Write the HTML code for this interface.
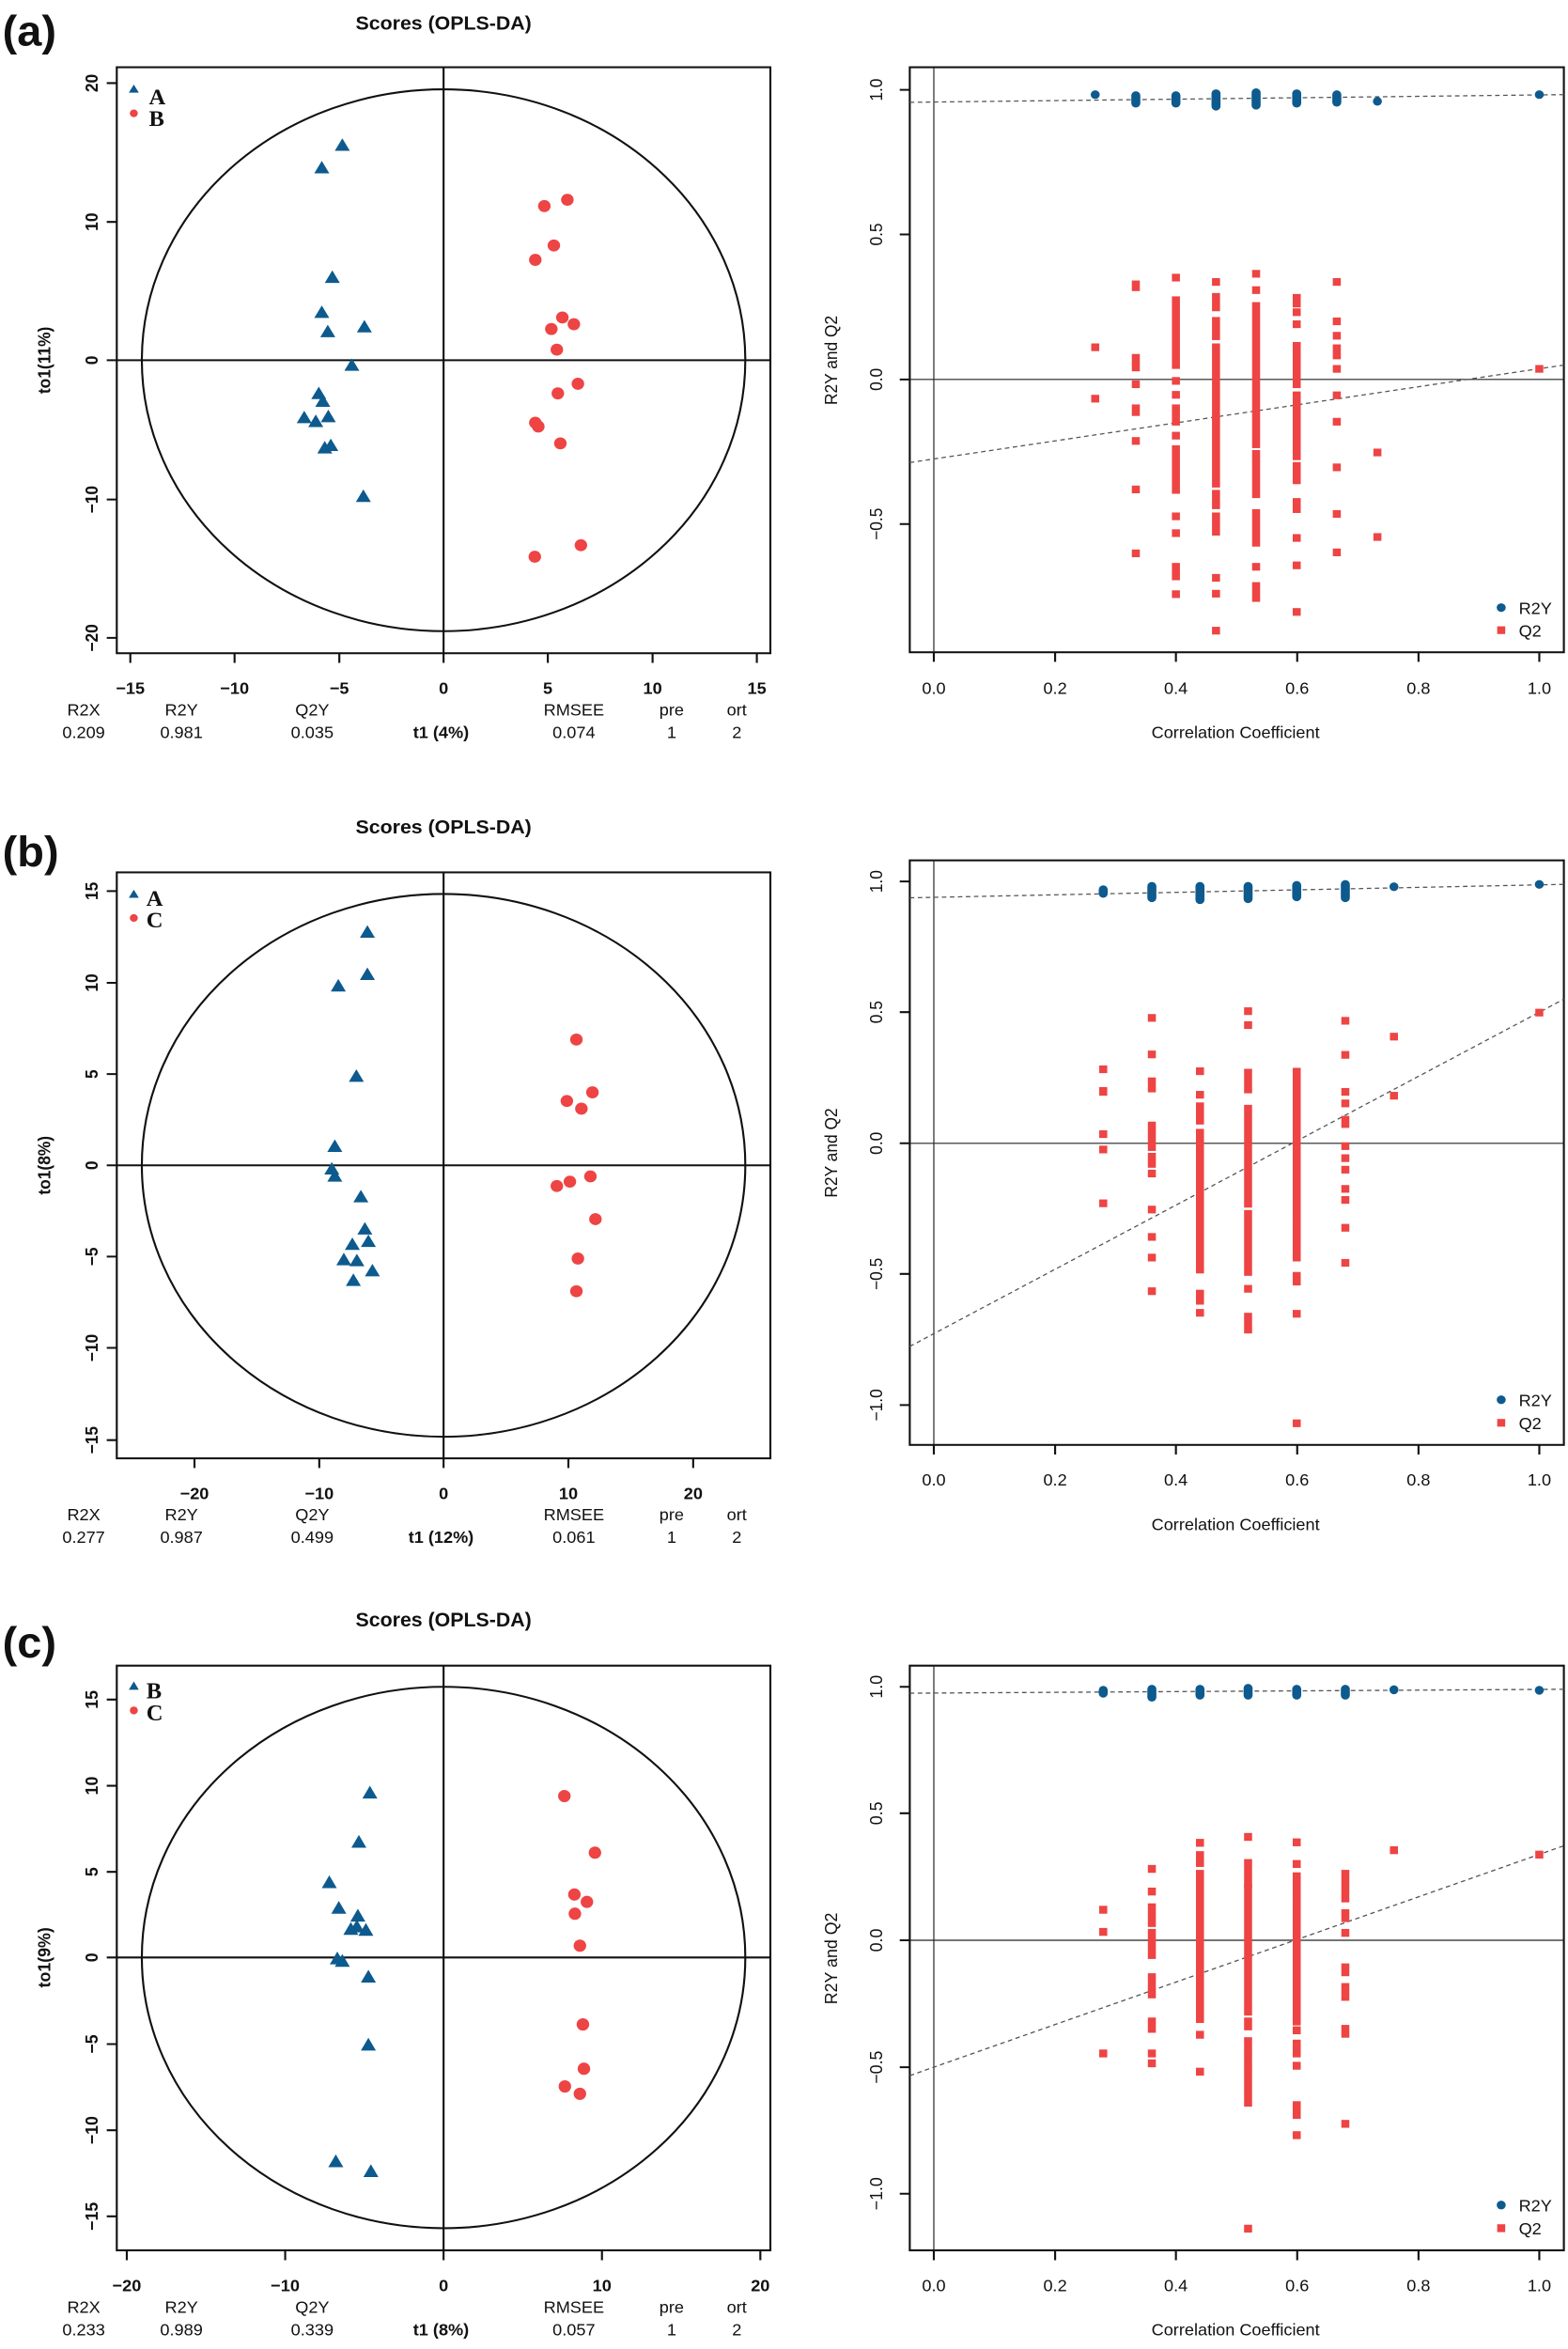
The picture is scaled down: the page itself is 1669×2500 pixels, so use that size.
<!DOCTYPE html>
<html><head><meta charset="utf-8"><style>
html,body{margin:0;padding:0;background:#fff}
svg{display:block}
text{font-family:"Liberation Sans",Arial,sans-serif;fill:#111}
.t{font-size:34px}
.b{font-weight:bold}
.s{font-family:"Liberation Serif",serif;font-weight:bold;font-size:46px}
.ax{stroke:#111;stroke-width:4;fill:none}
.th{stroke:#222;stroke-width:2.2;fill:none}
.dash{stroke:#555;stroke-width:2.5;stroke-dasharray:9,7;fill:none}
.q{fill:#EE4444}
.r{fill:#0D5A8E}
</style></head><body>
<svg width="1669" height="2500" viewBox="0 0 1669 2500" xmlns="http://www.w3.org/2000/svg">
<defs>
<path id="tri" d="M0,-17 L15,9 L-15,9Z" fill="#0D5A8E"/>
<circle id="cir" r="12.5" fill="#EE4444"/>
</defs>

<!-- ============ PANEL A LEFT ============ -->
<g transform="translate(0,0) scale(0.5335,0.5112)">
<text x="5" y="95" class="b" style="font-size:88px">(a)</text>
<text x="885" y="62" class="b" text-anchor="middle" style="font-size:40px">Scores (OPLS-DA)</text>
<rect x="233" y="140" width="1304" height="1220" class="ax"/>
<line x1="885" y1="140" x2="885" y2="1360" class="ax"/>
<line x1="233" y1="750" x2="1537" y2="750" class="ax"/>
<ellipse cx="885" cy="750" rx="602" ry="564" class="ax"/>
<g class="ax"><path d="M233,173h-20M233,462h-20M233,750h-20M233,1040h-20M233,1328h-20M260,1360v20M468,1360v20M677,1360v20M885,1360v20M1093,1360v20M1302,1360v20M1510,1360v20"/></g>
<g class="t b" text-anchor="middle">
<text x="195" y="173" transform="rotate(-90 195 173)">20</text>
<text x="195" y="462" transform="rotate(-90 195 462)">10</text>
<text x="195" y="750" transform="rotate(-90 195 750)">0</text>
<text x="195" y="1040" transform="rotate(-90 195 1040)">−10</text>
<text x="195" y="1328" transform="rotate(-90 195 1328)">−20</text>
<text x="260" y="1445">−15</text><text x="468" y="1445">−10</text><text x="677" y="1445">−5</text><text x="885" y="1445">0</text><text x="1093" y="1445">5</text><text x="1302" y="1445">10</text><text x="1510" y="1445">15</text>
<text x="100" y="750" transform="rotate(-90 100 750)">to1(11%)</text>
</g>
<g class="t" text-anchor="middle">
<text x="167" y="1490">R2X</text><text x="362" y="1490">R2Y</text><text x="623" y="1490">Q2Y</text><text x="1145" y="1490">RMSEE</text><text x="1340" y="1490">pre</text><text x="1470" y="1490">ort</text>
<text x="167" y="1537">0.209</text><text x="362" y="1537">0.981</text><text x="623" y="1537">0.035</text><text x="880" y="1537" class="b">t1 (4%)</text><text x="1145" y="1537">0.074</text><text x="1340" y="1537">1</text><text x="1470" y="1537">2</text>
</g>
<path d="M267,176 L277,193 L257,193Z" fill="#0D5A8E"/><text x="297" y="217" class="s">A</text>
<circle cx="267" cy="236" r="8" fill="#EE4444"/><text x="297" y="262" class="s">B</text>
<use href="#tri" x="683" y="305"/><use href="#tri" x="642" y="352"/><use href="#tri" x="663" y="580"/><use href="#tri" x="642" y="653"/><use href="#tri" x="727" y="683"/><use href="#tri" x="654" y="693"/><use href="#tri" x="702" y="763"/><use href="#tri" x="636" y="822"/><use href="#tri" x="644" y="838"/><use href="#tri" x="607" y="872"/><use href="#tri" x="630" y="880"/><use href="#tri" x="655" y="870"/><use href="#tri" x="648" y="935"/><use href="#tri" x="660" y="930"/><use href="#tri" x="725" y="1036"/>
<use href="#cir" x="1086" y="429"/><use href="#cir" x="1132" y="416"/><use href="#cir" x="1105" y="511"/><use href="#cir" x="1068" y="541"/><use href="#cir" x="1122" y="661"/><use href="#cir" x="1145" y="675"/><use href="#cir" x="1100" y="685"/><use href="#cir" x="1111" y="728"/><use href="#cir" x="1153" y="799"/><use href="#cir" x="1113" y="819"/><use href="#cir" x="1068" y="880"/><use href="#cir" x="1074" y="888"/><use href="#cir" x="1118" y="923"/><use href="#cir" x="1159" y="1135"/><use href="#cir" x="1067" y="1159"/>
</g>

<!-- ============ PANEL A RIGHT ============ -->
<g transform="translate(835,0) scale(0.5335,0.5112)">
<rect x="250" y="140" width="1305" height="1218" class="ax"/>
<line x1="298" y1="140" x2="298" y2="1358" class="th"/>
<line x1="250" y1="790" x2="1555" y2="790" class="th"/>
<g class="ax"><path d="M250,187h-20M250,488h-20M250,790h-20M250,1091h-20M298,1358v20M540,1358v20M781,1358v20M1023,1358v20M1265,1358v20M1506,1358v20"/></g>
<g class="t" text-anchor="middle">
<text x="195" y="187" transform="rotate(-90 195 187)">1.0</text>
<text x="195" y="488" transform="rotate(-90 195 488)">0.5</text>
<text x="195" y="790" transform="rotate(-90 195 790)">0.0</text>
<text x="195" y="1091" transform="rotate(-90 195 1091)">−0.5</text>
<text x="298" y="1445">0.0</text><text x="540" y="1445">0.2</text><text x="781" y="1445">0.4</text><text x="1023" y="1445">0.6</text><text x="1265" y="1445">0.8</text><text x="1506" y="1445">1.0</text>
<text x="105" y="750" transform="rotate(-90 105 750)">R2Y and Q2</text>
<text x="900" y="1537">Correlation Coefficient</text>
</g>
<line x1="250" y1="213" x2="1555" y2="197" class="dash"/>
<line x1="250" y1="963" x2="1555" y2="760" class="dash"/>
<g class="r">
<circle cx="620" cy="197" r="9"/>
<rect x="692" y="190" width="18" height="34" rx="9"/>
<rect x="772" y="190" width="18" height="34" rx="9"/>
<rect x="852" y="186" width="18" height="44" rx="9"/>
<rect x="932" y="184" width="18" height="44" rx="9"/>
<rect x="1013" y="186" width="18" height="38" rx="9"/>
<rect x="1093" y="188" width="18" height="34" rx="9"/>
<circle cx="1183" cy="211" r="9"/>
<circle cx="1506" cy="197" r="9"/>
</g>
<g class="q">
<rect x="612" y="715" width="16" height="16"/><rect x="612" y="822" width="16" height="16"/>
<rect x="693" y="584" width="16" height="22"/><rect x="693" y="737" width="16" height="36"/><rect x="693" y="792" width="16" height="16"/><rect x="693" y="842" width="16" height="24"/><rect x="693" y="910" width="16" height="16"/><rect x="693" y="1011" width="16" height="16"/><rect x="693" y="1144" width="16" height="16"/>
<rect x="773" y="570" width="16" height="16"/><rect x="773" y="617" width="16" height="151"/><rect x="773" y="785" width="16" height="16"/><rect x="773" y="814" width="16" height="16"/><rect x="773" y="842" width="16" height="44"/><rect x="773" y="899" width="16" height="16"/><rect x="773" y="927" width="16" height="101"/><rect x="773" y="1067" width="16" height="16"/><rect x="773" y="1102" width="16" height="16"/><rect x="773" y="1172" width="16" height="36"/><rect x="773" y="1229" width="16" height="16"/>
<rect x="853" y="579" width="16" height="16"/><rect x="853" y="610" width="16" height="38"/><rect x="853" y="660" width="16" height="48"/><rect x="853" y="715" width="16" height="300"/><rect x="853" y="1020" width="16" height="40"/><rect x="853" y="1067" width="16" height="48"/><rect x="853" y="1195" width="16" height="16"/><rect x="853" y="1228" width="16" height="16"/><rect x="853" y="1305" width="16" height="16"/>
<rect x="933" y="562" width="16" height="16"/><rect x="933" y="596" width="16" height="16"/><rect x="933" y="629" width="16" height="304"/><rect x="933" y="937" width="16" height="100"/><rect x="933" y="1060" width="16" height="78"/><rect x="933" y="1172" width="16" height="16"/><rect x="933" y="1212" width="16" height="41"/>
<rect x="1014" y="612" width="16" height="28"/><rect x="1014" y="642" width="16" height="16"/><rect x="1014" y="667" width="16" height="16"/><rect x="1014" y="712" width="16" height="96"/><rect x="1014" y="815" width="16" height="143"/><rect x="1014" y="962" width="16" height="46"/><rect x="1014" y="1037" width="16" height="31"/><rect x="1014" y="1112" width="16" height="16"/><rect x="1014" y="1169" width="16" height="16"/><rect x="1014" y="1266" width="16" height="16"/>
<rect x="1094" y="579" width="16" height="16"/><rect x="1094" y="661" width="16" height="16"/><rect x="1094" y="691" width="16" height="16"/><rect x="1094" y="717" width="16" height="31"/><rect x="1094" y="760" width="16" height="16"/><rect x="1094" y="815" width="16" height="16"/><rect x="1094" y="870" width="16" height="16"/><rect x="1094" y="965" width="16" height="16"/><rect x="1094" y="1062" width="16" height="16"/><rect x="1094" y="1142" width="16" height="16"/>
<rect x="1175" y="934" width="16" height="16"/><rect x="1175" y="1110" width="16" height="16"/>
<rect x="1498" y="760" width="16" height="16"/>
</g>
<circle cx="1430" cy="1265" r="9" fill="#0D5A8E"/><text x="1465" y="1278" class="t">R2Y</text>
<rect x="1422" y="1304" width="16" height="16" fill="#EE4444"/><text x="1465" y="1325" class="t">Q2</text>
</g>

<!-- ============ PANEL B LEFT ============ -->
<g transform="translate(0,840) scale(0.5335,0.5112)">
<text x="5" y="160" class="b" style="font-size:88px">(b)</text>
<text x="885" y="92" class="b" text-anchor="middle" style="font-size:40px">Scores (OPLS-DA)</text>
<rect x="233" y="173" width="1304" height="1220" class="ax"/>
<line x1="885" y1="173" x2="885" y2="1393" class="ax"/>
<line x1="233" y1="783" x2="1537" y2="783" class="ax"/>
<ellipse cx="885" cy="783" rx="602" ry="565" class="ax"/>
<g class="ax"><path d="M233,212h-20M233,403h-20M233,593h-20M233,783h-20M233,973h-20M233,1163h-20M233,1355h-20M388,1393v20M637,1393v20M885,1393v20M1134,1393v20M1383,1393v20"/></g>
<g class="t b" text-anchor="middle">
<text x="195" y="212" transform="rotate(-90 195 212)">15</text>
<text x="195" y="403" transform="rotate(-90 195 403)">10</text>
<text x="195" y="593" transform="rotate(-90 195 593)">5</text>
<text x="195" y="783" transform="rotate(-90 195 783)">0</text>
<text x="195" y="973" transform="rotate(-90 195 973)">−5</text>
<text x="195" y="1163" transform="rotate(-90 195 1163)">−10</text>
<text x="195" y="1355" transform="rotate(-90 195 1355)">−15</text>
<text x="388" y="1478">−20</text><text x="637" y="1478">−10</text><text x="885" y="1478">0</text><text x="1134" y="1478">10</text><text x="1383" y="1478">20</text>
<text x="100" y="783" transform="rotate(-90 100 783)">to1(8%)</text>
</g>
<g class="t" text-anchor="middle">
<text x="167" y="1522">R2X</text><text x="362" y="1522">R2Y</text><text x="623" y="1522">Q2Y</text><text x="1145" y="1522">RMSEE</text><text x="1340" y="1522">pre</text><text x="1470" y="1522">ort</text>
<text x="167" y="1569">0.277</text><text x="362" y="1569">0.987</text><text x="623" y="1569">0.499</text><text x="880" y="1569" class="b">t1 (12%)</text><text x="1145" y="1569">0.061</text><text x="1340" y="1569">1</text><text x="1470" y="1569">2</text>
</g>
<path d="M267,209 L277,226 L257,226Z" fill="#0D5A8E"/><text x="292" y="243" class="s">A</text>
<circle cx="267" cy="268" r="8" fill="#EE4444"/><text x="292" y="288" class="s">C</text>
<use href="#tri" x="733" y="300"/><use href="#tri" x="733" y="388"/><use href="#tri" x="675" y="412"/><use href="#tri" x="711" y="600"/><use href="#tri" x="668" y="746"/><use href="#tri" x="662" y="793"/><use href="#tri" x="668" y="808"/><use href="#tri" x="720" y="851"/><use href="#tri" x="728" y="918"/><use href="#tri" x="735" y="944"/><use href="#tri" x="703" y="950"/><use href="#tri" x="686" y="982"/><use href="#tri" x="712" y="984"/><use href="#tri" x="743" y="1005"/><use href="#tri" x="705" y="1025"/>
<use href="#cir" x="1150" y="521"/><use href="#cir" x="1182" y="631"/><use href="#cir" x="1131" y="649"/><use href="#cir" x="1160" y="665"/><use href="#cir" x="1178" y="806"/><use href="#cir" x="1137" y="817"/><use href="#cir" x="1111" y="826"/><use href="#cir" x="1188" y="895"/><use href="#cir" x="1153" y="977"/><use href="#cir" x="1150" y="1045"/>
</g>

<!-- ============ PANEL B RIGHT ============ -->
<g transform="translate(835,840) scale(0.5335,0.5112)">
<rect x="250" y="148" width="1305" height="1217" class="ax"/>
<line x1="298" y1="148" x2="298" y2="1365" class="th"/>
<line x1="250" y1="737" x2="1555" y2="737" class="th"/>
<g class="ax"><path d="M250,192h-20M250,464h-20M250,737h-20M250,1009h-20M250,1282h-20M298,1365v20M540,1365v20M781,1365v20M1023,1365v20M1265,1365v20M1506,1365v20"/></g>
<g class="t" text-anchor="middle">
<text x="195" y="192" transform="rotate(-90 195 192)">1.0</text>
<text x="195" y="464" transform="rotate(-90 195 464)">0.5</text>
<text x="195" y="737" transform="rotate(-90 195 737)">0.0</text>
<text x="195" y="1009" transform="rotate(-90 195 1009)">−0.5</text>
<text x="195" y="1282" transform="rotate(-90 195 1282)">−1.0</text>
<text x="298" y="1450">0.0</text><text x="540" y="1450">0.2</text><text x="781" y="1450">0.4</text><text x="1023" y="1450">0.6</text><text x="1265" y="1450">0.8</text><text x="1506" y="1450">1.0</text>
<text x="105" y="757" transform="rotate(-90 105 757)">R2Y and Q2</text>
<text x="900" y="1542">Correlation Coefficient</text>
</g>
<line x1="250" y1="226" x2="1555" y2="198" class="dash"/>
<line x1="250" y1="1160" x2="1555" y2="437" class="dash"/>
<g class="r">
<rect x="627" y="200" width="18" height="26" rx="9"/>
<rect x="724" y="193" width="18" height="42" rx="9"/>
<rect x="820" y="193" width="18" height="46" rx="9"/>
<rect x="916" y="193" width="18" height="44" rx="9"/>
<rect x="1013" y="191" width="18" height="42" rx="9"/>
<rect x="1110" y="189" width="18" height="46" rx="9"/>
<circle cx="1216" cy="203" r="9"/>
<circle cx="1506" cy="198" r="9"/>
</g>
<g class="q">
<rect x="628" y="575" width="16" height="16"/><rect x="628" y="620" width="16" height="18"/><rect x="628" y="710" width="16" height="16"/><rect x="628" y="742" width="16" height="16"/><rect x="628" y="854" width="16" height="16"/>
<rect x="725" y="468" width="16" height="16"/><rect x="725" y="544" width="16" height="16"/><rect x="725" y="600" width="16" height="31"/><rect x="725" y="692" width="16" height="61"/><rect x="725" y="757" width="16" height="31"/><rect x="725" y="792" width="16" height="16"/><rect x="725" y="867" width="16" height="16"/><rect x="725" y="924" width="16" height="16"/><rect x="725" y="967" width="16" height="16"/><rect x="725" y="1037" width="16" height="16"/>
<rect x="821" y="579" width="16" height="16"/><rect x="821" y="628" width="16" height="16"/><rect x="821" y="652" width="16" height="46"/><rect x="821" y="707" width="16" height="301"/><rect x="821" y="1042" width="16" height="31"/><rect x="821" y="1082" width="16" height="16"/>
<rect x="917" y="454" width="16" height="16"/><rect x="917" y="483" width="16" height="16"/><rect x="917" y="582" width="16" height="51"/><rect x="917" y="657" width="16" height="214"/><rect x="917" y="876" width="16" height="137"/><rect x="917" y="1032" width="16" height="16"/><rect x="917" y="1090" width="16" height="43"/>
<rect x="1014" y="580" width="16" height="118"/><rect x="1014" y="680" width="16" height="218"/><rect x="1014" y="897" width="16" height="86"/><rect x="1014" y="1005" width="16" height="28"/><rect x="1014" y="1084" width="16" height="16"/><rect x="1014" y="1312" width="16" height="16"/>
<rect x="1111" y="474" width="16" height="16"/><rect x="1111" y="545" width="16" height="16"/><rect x="1111" y="622" width="16" height="16"/><rect x="1111" y="646" width="16" height="16"/><rect x="1111" y="680" width="16" height="25"/><rect x="1111" y="735" width="16" height="16"/><rect x="1111" y="760" width="16" height="16"/><rect x="1111" y="784" width="16" height="16"/><rect x="1111" y="824" width="16" height="16"/><rect x="1111" y="847" width="16" height="16"/><rect x="1111" y="905" width="16" height="16"/><rect x="1111" y="978" width="16" height="16"/>
<rect x="1208" y="507" width="16" height="16"/><rect x="1208" y="630" width="16" height="16"/>
<rect x="1498" y="457" width="16" height="16"/>
</g>
<circle cx="1430" cy="1271" r="9" fill="#0D5A8E"/><text x="1465" y="1284" class="t">R2Y</text>
<rect x="1422" y="1311" width="16" height="16" fill="#EE4444"/><text x="1465" y="1332" class="t">Q2</text>
</g>

<!-- ============ PANEL C LEFT ============ -->
<g transform="translate(0,1680) scale(0.5335,0.5238)">
<text x="5" y="160" class="b" style="font-size:88px">(c)</text>
<text x="885" y="97" class="b" text-anchor="middle" style="font-size:40px">Scores (OPLS-DA)</text>
<rect x="233" y="177" width="1304" height="1188" class="ax"/>
<line x1="885" y1="177" x2="885" y2="1365" class="ax"/>
<line x1="233" y1="770" x2="1537" y2="770" class="ax"/>
<ellipse cx="885" cy="770" rx="602" ry="550" class="ax"/>
<g class="ax"><path d="M233,246h-20M233,421h-20M233,596h-20M233,770h-20M233,946h-20M233,1121h-20M233,1296h-20M253,1365v20M569,1365v20M885,1365v20M1201,1365v20M1517,1365v20"/></g>
<g class="t b" text-anchor="middle">
<text x="195" y="246" transform="rotate(-90 195 246)">15</text>
<text x="195" y="421" transform="rotate(-90 195 421)">10</text>
<text x="195" y="596" transform="rotate(-90 195 596)">5</text>
<text x="195" y="770" transform="rotate(-90 195 770)">0</text>
<text x="195" y="946" transform="rotate(-90 195 946)">−5</text>
<text x="195" y="1121" transform="rotate(-90 195 1121)">−10</text>
<text x="195" y="1296" transform="rotate(-90 195 1296)">−15</text>
<text x="253" y="1448">−20</text><text x="569" y="1448">−10</text><text x="885" y="1448">0</text><text x="1201" y="1448">10</text><text x="1517" y="1448">20</text>
<text x="100" y="770" transform="rotate(-90 100 770)">to1(9%)</text>
</g>
<g class="t" text-anchor="middle">
<text x="167" y="1492">R2X</text><text x="362" y="1492">R2Y</text><text x="623" y="1492">Q2Y</text><text x="1145" y="1492">RMSEE</text><text x="1340" y="1492">pre</text><text x="1470" y="1492">ort</text>
<text x="167" y="1538">0.233</text><text x="362" y="1538">0.989</text><text x="623" y="1538">0.339</text><text x="880" y="1538" class="b">t1 (8%)</text><text x="1145" y="1538">0.057</text><text x="1340" y="1538">1</text><text x="1470" y="1538">2</text>
</g>
<path d="M267,209 L277,226 L257,226Z" fill="#0D5A8E"/><text x="292" y="243" class="s">B</text>
<circle cx="267" cy="268" r="8" fill="#EE4444"/><text x="292" y="288" class="s">C</text>
<use href="#tri" x="738" y="438"/><use href="#tri" x="716" y="538"/><use href="#tri" x="657" y="620"/><use href="#tri" x="676" y="672"/><use href="#tri" x="714" y="688"/><use href="#tri" x="700" y="715"/><use href="#tri" x="712" y="710"/><use href="#tri" x="730" y="717"/><use href="#tri" x="673" y="775"/><use href="#tri" x="683" y="780"/><use href="#tri" x="735" y="812"/><use href="#tri" x="735" y="950"/><use href="#tri" x="670" y="1187"/><use href="#tri" x="740" y="1207"/>
<use href="#cir" x="1126" y="442"/><use href="#cir" x="1187" y="557"/><use href="#cir" x="1146" y="642"/><use href="#cir" x="1171" y="657"/><use href="#cir" x="1147" y="681"/><use href="#cir" x="1157" y="746"/><use href="#cir" x="1163" y="906"/><use href="#cir" x="1165" y="996"/><use href="#cir" x="1127" y="1032"/><use href="#cir" x="1157" y="1047"/>
</g>

<!-- ============ PANEL C RIGHT ============ -->
<g transform="translate(835,1680) scale(0.5335,0.5238)">
<rect x="250" y="177" width="1305" height="1188" class="ax"/>
<line x1="298" y1="177" x2="298" y2="1365" class="th"/>
<line x1="250" y1="735" x2="1555" y2="735" class="th"/>
<g class="ax"><path d="M250,220h-20M250,477h-20M250,735h-20M250,993h-20M250,1250h-20M298,1365v20M540,1365v20M781,1365v20M1023,1365v20M1265,1365v20M1506,1365v20"/></g>
<g class="t" text-anchor="middle">
<text x="195" y="220" transform="rotate(-90 195 220)">1.0</text>
<text x="195" y="477" transform="rotate(-90 195 477)">0.5</text>
<text x="195" y="735" transform="rotate(-90 195 735)">0.0</text>
<text x="195" y="993" transform="rotate(-90 195 993)">−0.5</text>
<text x="195" y="1250" transform="rotate(-90 195 1250)">−1.0</text>
<text x="298" y="1448">0.0</text><text x="540" y="1448">0.2</text><text x="781" y="1448">0.4</text><text x="1023" y="1448">0.6</text><text x="1265" y="1448">0.8</text><text x="1506" y="1448">1.0</text>
<text x="105" y="772" transform="rotate(-90 105 772)">R2Y and Q2</text>
<text x="900" y="1538">Correlation Coefficient</text>
</g>
<line x1="250" y1="233" x2="1555" y2="225" class="dash"/>
<line x1="250" y1="1010" x2="1555" y2="543" class="dash"/>
<g class="r">
<rect x="627" y="218" width="18" height="24" rx="9"/>
<rect x="724" y="216" width="18" height="34" rx="9"/>
<rect x="820" y="216" width="18" height="30" rx="9"/>
<rect x="916" y="214" width="18" height="32" rx="9"/>
<rect x="1013" y="216" width="18" height="30" rx="9"/>
<rect x="1110" y="216" width="18" height="30" rx="9"/>
<circle cx="1216" cy="226" r="9"/>
<circle cx="1506" cy="227" r="9"/>
</g>
<g class="q">
<rect x="628" y="665" width="16" height="16"/><rect x="628" y="710" width="16" height="16"/><rect x="628" y="957" width="16" height="16"/>
<rect x="725" y="582" width="16" height="16"/><rect x="725" y="628" width="16" height="16"/><rect x="725" y="660" width="16" height="48"/><rect x="725" y="712" width="16" height="61"/><rect x="725" y="802" width="16" height="51"/><rect x="725" y="892" width="16" height="31"/><rect x="725" y="957" width="16" height="16"/><rect x="725" y="977" width="16" height="16"/>
<rect x="821" y="529" width="16" height="16"/><rect x="821" y="554" width="16" height="32"/><rect x="821" y="592" width="16" height="311"/><rect x="821" y="919" width="16" height="16"/><rect x="821" y="994" width="16" height="16"/>
<rect x="917" y="517" width="16" height="16"/><rect x="917" y="570" width="16" height="58"/><rect x="917" y="622" width="16" height="266"/><rect x="917" y="892" width="16" height="26"/><rect x="917" y="932" width="16" height="31"/><rect x="917" y="962" width="16" height="31"/><rect x="917" y="992" width="16" height="81"/><rect x="917" y="1313" width="16" height="16"/>
<rect x="1014" y="528" width="16" height="16"/><rect x="1014" y="572" width="16" height="16"/><rect x="1014" y="597" width="16" height="51"/><rect x="1014" y="647" width="16" height="61"/><rect x="1014" y="702" width="16" height="206"/><rect x="1014" y="910" width="16" height="16"/><rect x="1014" y="937" width="16" height="36"/><rect x="1014" y="982" width="16" height="16"/><rect x="1014" y="1062" width="16" height="36"/><rect x="1014" y="1123" width="16" height="16"/>
<rect x="1111" y="592" width="16" height="66"/><rect x="1111" y="672" width="16" height="26"/><rect x="1111" y="712" width="16" height="16"/><rect x="1111" y="782" width="16" height="26"/><rect x="1111" y="822" width="16" height="36"/><rect x="1111" y="907" width="16" height="26"/><rect x="1111" y="1100" width="16" height="16"/>
<rect x="1208" y="544" width="16" height="16"/>
<rect x="1498" y="553" width="16" height="16"/>
</g>
<circle cx="1430" cy="1273" r="9" fill="#0D5A8E"/><text x="1465" y="1286" class="t">R2Y</text>
<rect x="1422" y="1312" width="16" height="16" fill="#EE4444"/><text x="1465" y="1333" class="t">Q2</text>
</g>
</svg>
</body></html>
